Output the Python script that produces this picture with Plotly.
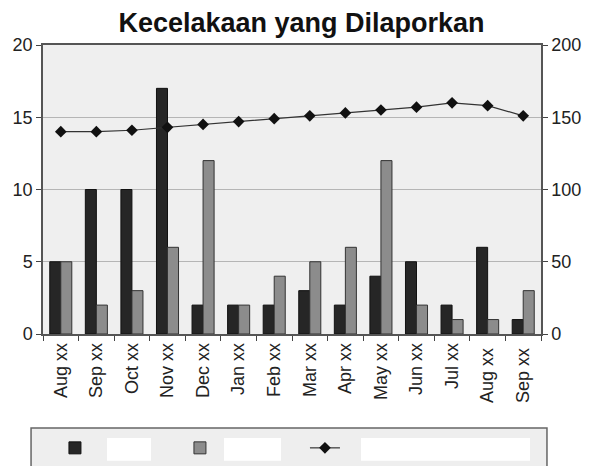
import plotly.graph_objects as go

months = ['Aug xx', 'Sep xx', 'Oct xx', 'Nov xx', 'Dec xx', 'Jan xx', 'Feb xx',
          'Mar xx', 'Apr xx', 'May xx', 'Jun xx', 'Jul xx', 'Aug xx ', 'Sep xx ']
series_a = [5, 10, 10, 17, 2, 2, 2, 3, 2, 4, 5, 2, 6, 1]
series_b = [5, 2, 3, 6, 12, 2, 4, 5, 6, 12, 2, 1, 1, 3]
series_line = [140, 140, 141, 143, 145, 147, 149, 151, 153, 155, 157, 160, 158, 151]

font = 'Liberation Sans, Arial, sans-serif'
blank = '\u00a0'

fig = go.Figure()
fig.add_trace(go.Bar(x=months, y=series_a, name=blank,
                     marker=dict(color='#262626', line=dict(color='#111', width=1))))
fig.add_trace(go.Bar(x=months, y=series_b, name=blank,
                     marker=dict(color='#8c8c8c', line=dict(color='#333', width=1))))
fig.add_trace(go.Scatter(x=months, y=series_line, yaxis='y2', name=blank,
                         mode='lines+markers',
                         line=dict(color='#333', width=1.2),
                         marker=dict(symbol='diamond', size=9, color='#111')))

# legend frame and the blank label boxes
legend_shapes = [
    dict(type='rect', xref='paper', yref='paper', x0=-0.024, x1=1.012, y0=-0.325, y1=-0.5,
         fillcolor='#eeeeee', line=dict(color='#666', width=1.5), layer='below'),
]
for a, b in [(0.1285, 0.2169), (0.3635, 0.4779), (0.6386, 0.9779)]:
    legend_shapes.append(dict(type='rect', xref='paper', yref='paper', x0=a, x1=b,
                              y0=-0.36, y1=-0.439, fillcolor='white',
                              line=dict(width=0), layer='below'))

# page body has an 8px margin, so the figure is sized to fit the window
fig.update_layout(
    width=587, height=458,
    paper_bgcolor='white', plot_bgcolor='#efefef',
    font=dict(family=font, size=18, color='#222'),
    title=dict(text='<b>Kecelakaan yang Dilaporkan</b>', x=0.5, xanchor='center',
               y=0.969, yanchor='middle', font=dict(size=27, color='#111')),
    margin=dict(l=35, r=54, t=37, b=132, autoexpand=False),
    barmode='group', bargap=0.38, bargroupgap=0,
    showlegend=True,
    shapes=legend_shapes,
    legend=dict(orientation='h', x=0.024, y=-0.322, xanchor='left', yanchor='top',
                bgcolor='rgba(0,0,0,0)', borderwidth=0,
                font=dict(size=22), entrywidth=80, entrywidthmode='pixels'),
    xaxis=dict(range=[-0.5, len(months) - 0.5], tickangle=-90, showline=True,
               linecolor='#555', linewidth=1.5,
               ticks='outside', tickson='boundaries', ticklen=5, tickcolor='#444',
               mirror=True, tickfont=dict(size=18), automargin=False),
    yaxis=dict(range=[0, 20], tickvals=[0, 5, 10, 15, 20], showgrid=True,
               gridcolor='#b5b5b5', gridwidth=1, showline=True, linecolor='#555',
               linewidth=1.5, ticks='outside', ticklen=5, tickcolor='#444',
               zeroline=False, tickfont=dict(size=18), automargin=False),
    yaxis2=dict(range=[0, 200], tickvals=[0, 50, 100, 150, 200], overlaying='y',
                side='right', showgrid=False, showline=True, linecolor='#555',
                linewidth=1.5, ticks='outside', ticklen=5, tickcolor='#444',
                zeroline=False, tickfont=dict(size=18), automargin=False),
)

fig.write_html("out.html")
